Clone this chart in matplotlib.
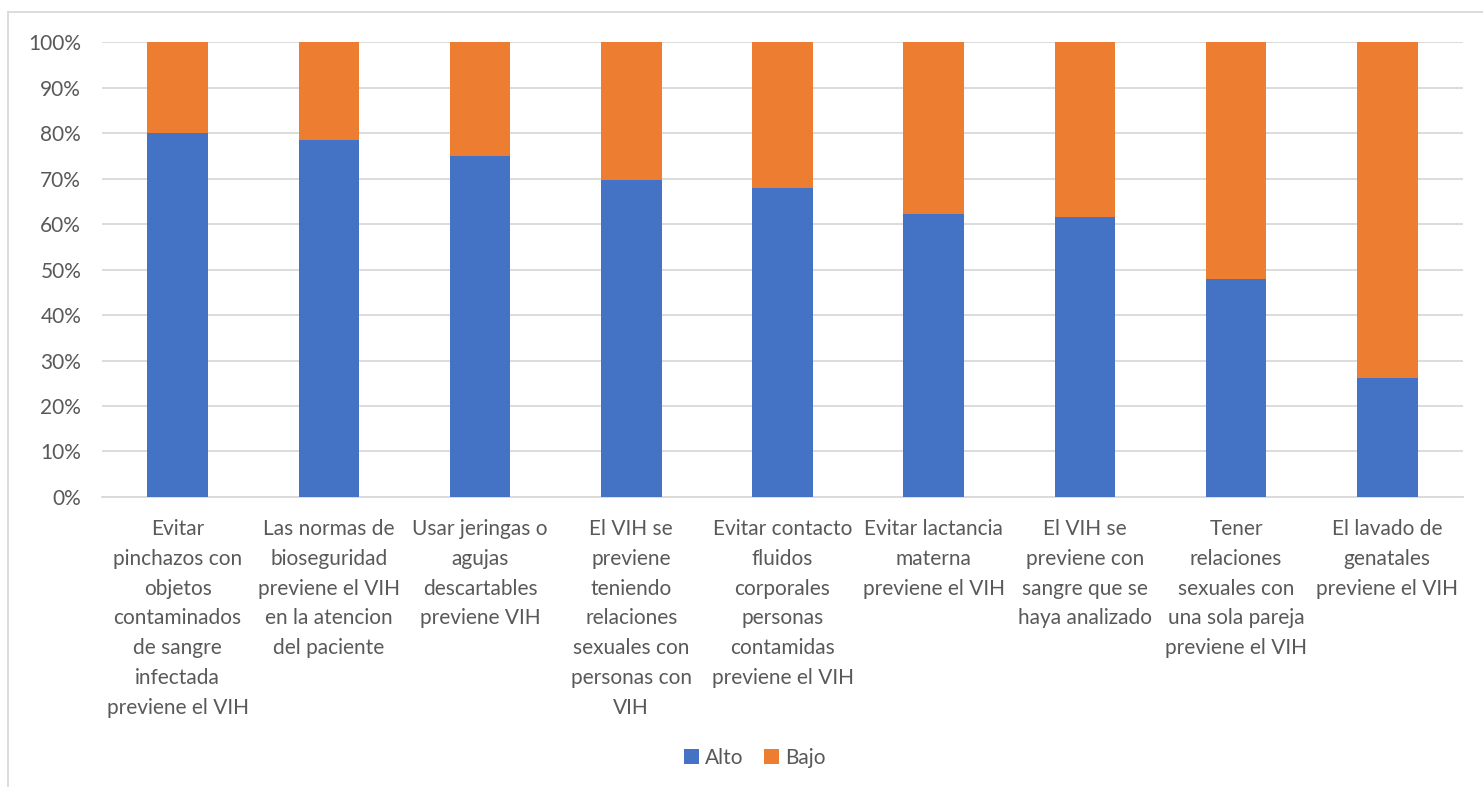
import matplotlib.pyplot as plt
import numpy as np
from matplotlib.lines import Line2D

# Share of respondents per knowledge level, one entry per statement
categories = [
    "Evitar\npinchazos con\nobjetos\ncontaminados\nde sangre\ninfectada\npreviene el VIH",
    "Las normas de\nbioseguridad\npreviene el VIH\nen la atencion\ndel paciente",
    "Usar jeringas o\nagujas\ndescartables\npreviene VIH",
    "El VIH se\npreviene\nteniendo\nrelaciones\nsexuales con\npersonas con\nVIH",
    "Evitar contacto\nfluidos\ncorporales\npersonas\ncontamidas\npreviene el VIH",
    "Evitar lactancia\nmaterna\npreviene el VIH",
    "El VIH se\npreviene con\nsangre que se\nhaya analizado",
    "Tener\nrelaciones\nsexuales con\nuna sola pareja\npreviene el VIH",
    "El lavado de\ngenatales\npreviene el VIH",
]
alto = [80.0, 78.5, 75.0, 69.6, 68.0, 62.3, 61.5, 48.0, 26.1]
bajo = [100 - a for a in alto]
yticks = list(range(0, 101, 10))

BLUE = "#4472c4"
ORANGE = "#ed7d31"
TEXT = "#595959"
GRID = "#d9d9d9"
FS = 15

plt.rcParams['font.family'] = ['Lato', 'DejaVu Sans']

fig = plt.figure(figsize=(14.83, 7.87), dpi=100)
ax = fig.add_axes([0.0688, 0.3685, 0.9177, 0.5781])

x = np.arange(len(categories))
ax.bar(x, alto, width=0.4, color=BLUE, label="Alto", zorder=3)
ax.bar(x, bajo, width=0.4, bottom=alto, color=ORANGE, label="Bajo", zorder=3)

ax.set_xlim(-0.5, len(categories) - 0.5)
ax.set_ylim(0, 100)
ax.set_yticks(yticks)
ax.set_yticklabels([f"{v}%" for v in yticks], fontsize=FS, color=TEXT)
ax.yaxis.grid(True, color=GRID, linewidth=1.3, zorder=0)
ax.tick_params(axis='y', length=0, pad=15)

ax.set_xticks(x)
ax.set_xticklabels(categories, fontsize=FS, color=TEXT, linespacing=1.61, va='top')
ax.tick_params(axis='x', length=0, pad=16)

for side in ['top', 'right', 'left']:
    ax.spines[side].set_visible(False)
ax.spines['bottom'].set_color(GRID)
ax.spines['bottom'].set_linewidth(1.3)

leg = fig.legend(loc='center', bbox_to_anchor=(0.509, 1 - 758 / 787), ncol=2,
                 frameon=False, fontsize=FS, handlelength=0.72, handleheight=0.72,
                 handletextpad=0.3, columnspacing=1.0)
for t in leg.get_texts():
    t.set_color(TEXT)

# chart frame
fig.add_artist(Line2D([8 / 1483, 1.0], [1 - 12 / 787] * 2, color=GRID, linewidth=1.3))
fig.add_artist(Line2D([8 / 1483] * 2, [0.0, 1 - 12 / 787], color=GRID, linewidth=1.3))

fig.savefig("out.png", dpi=100)
